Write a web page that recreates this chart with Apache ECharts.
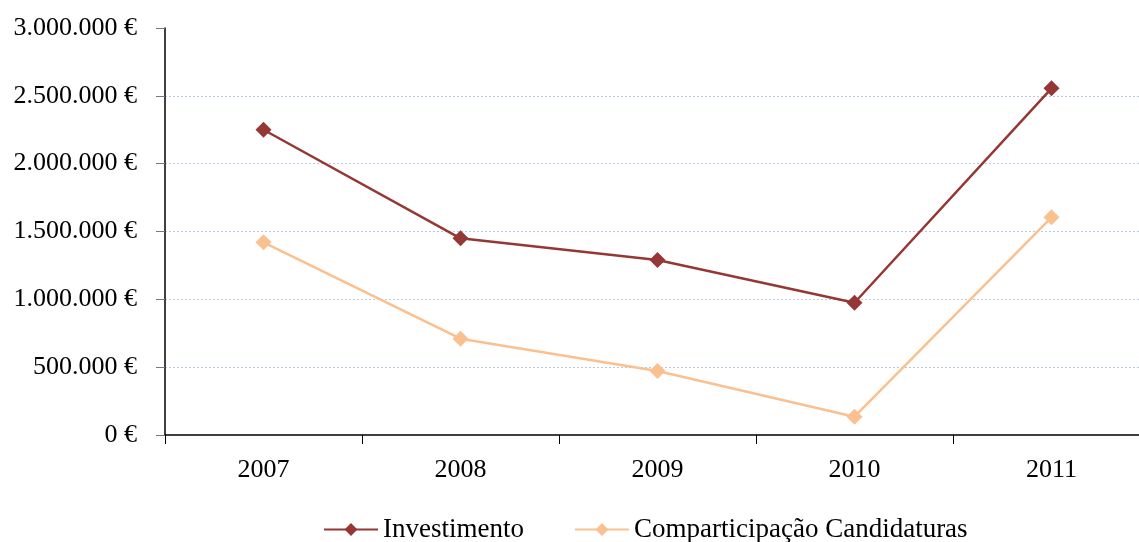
<!DOCTYPE html>
<html><head><meta charset="utf-8">
<script src="https://cdn.jsdelivr.net/npm/echarts@6/dist/echarts.min.js"></script>
<style>html,body{margin:0;padding:0;background:#fff;overflow:hidden}#c{width:1150px;height:542px}</style>
</head><body><div id="c"></div>
<script>
const categories = ['2007','2008','2009','2010','2011'];
const investimento = [2250000, 1450000, 1290000, 975000, 2555000];
const comparticipacao = [1420000, 710000, 472000, 135000, 1605000];
const yTicks = [0, 500000, 1000000, 1500000, 2000000, 2500000, 3000000];

function fmt(v){
  return String(v).replace(/\B(?=(\d{3})+(?!\d))/g, '.') + ' €';
}
const FONT = '"Liberation Serif", "DejaVu Serif", serif';
const chart = echarts.init(document.getElementById('c'));
chart.setOption({
  backgroundColor: '#fff',
  animation: false,
  textStyle: {fontFamily: FONT},
  grid: {left: 165, right: 0, top: 28, bottom: 107, containLabel: false},
  legend: {
    bottom: -6, left: 318,
    itemWidth: 54, itemHeight: 16, itemGap: 50,
    textStyle: {fontFamily: FONT, fontSize: 27, color: '#000'},
    data: ['Investimento', 'Comparticipação Candidaturas']
  },
  xAxis: {
    type: 'category', data: categories, boundaryGap: true,
    axisLine: {lineStyle: {color: '#000', width: 1.5}},
    axisTick: {show: true, length: 9, lineStyle: {color: '#000'}},
    axisLabel: {fontFamily: FONT, fontSize: 26, color: '#000', margin: 22}
  },
  yAxis: {
    type: 'value', min: yTicks[0], max: yTicks[yTicks.length-1], interval: 500000,
    axisLine: {show: true, lineStyle: {color: '#000', width: 1.5}},
    axisTick: {show: true, length: 9, lineStyle: {color: '#777'}},
    axisLabel: {fontFamily: FONT, fontSize: 26, color: '#000', margin: 28, formatter: fmt},
    splitLine: {show: true, showMinLine: false, showMaxLine: false,
      lineStyle: {color: '#b9c8e2', type: [2, 2], width: 1}}
  },
  series: [
    {name: 'Investimento', type: 'line', data: investimento,
     symbol: 'diamond', symbolSize: 16,
     lineStyle: {color: '#953735', width: 2.5},
     itemStyle: {color: '#953735'}},
    {name: 'Comparticipação Candidaturas', type: 'line', data: comparticipacao,
     symbol: 'diamond', symbolSize: 16,
     lineStyle: {color: '#FAC090', width: 2.5},
     itemStyle: {color: '#FAC090'}}
  ]
});
</script></body></html>
